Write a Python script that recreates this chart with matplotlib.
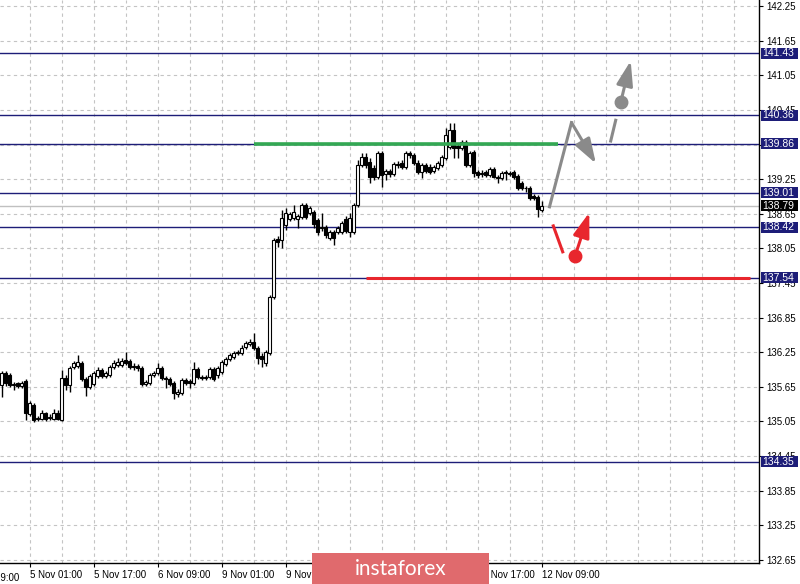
import numpy as np
import matplotlib.pyplot as plt
from matplotlib.patches import Rectangle
from matplotlib.transforms import blended_transform_factory

# H1 candles (oldest first, last one = 12 Nov 09:00)
opens = [135.68, 135.89, 135.86, 135.70, 135.72, 135.67, 135.75, 135.18, 135.34, 135.09,
         135.09, 135.20, 135.11, 135.09, 135.20, 135.08, 135.80, 135.68, 135.99, 136.01,
         136.06, 135.79, 135.65, 135.70, 135.84, 135.94, 135.84, 135.86, 135.99, 136.03,
         136.03, 136.12, 136.10, 136.01, 136.01, 135.98, 135.70, 135.72, 135.86, 135.89,
         135.98, 135.80, 135.79, 135.72, 135.53, 135.54, 135.77, 135.75, 135.72, 135.96,
         135.82, 135.80, 135.82, 135.96, 135.86, 135.91, 136.05, 136.13, 136.17, 136.24,
         136.24, 136.34, 136.39, 136.43, 136.32, 136.19, 136.06, 136.24, 137.21, 138.21,
         138.20, 138.46, 138.56, 138.58, 138.56, 138.59, 138.80, 138.66, 138.68, 138.54,
         138.40, 138.42, 138.23, 138.33, 138.33, 138.33, 138.56, 138.33, 138.33, 138.80,
         139.49, 139.63, 139.55, 139.44, 139.29, 139.70, 139.34, 139.39, 139.34, 139.51,
         139.53, 139.46, 139.70, 139.67, 139.53, 139.37, 139.49, 139.46, 139.39, 139.44,
         139.49, 139.62, 139.81, 140.10, 139.82, 139.79, 139.89, 139.49, 139.72, 139.37,
         139.36, 139.37, 139.32, 139.43, 139.29, 139.27, 139.37, 139.36, 139.37, 139.30,
         139.18, 139.10, 139.10, 138.96, 138.94, 138.71]
highs = [135.93, 135.93, 135.89, 135.73, 135.73, 135.75, 135.79, 135.41, 135.37, 135.15,
         135.25, 135.21, 135.18, 135.27, 135.25, 135.94, 135.86, 136.01, 136.10, 136.20,
         136.10, 135.82, 135.87, 135.93, 135.99, 135.98, 135.93, 136.03, 136.12, 136.15,
         136.15, 136.25, 136.13, 136.06, 136.05, 136.01, 135.77, 135.89, 135.93, 136.06,
         136.01, 135.84, 135.82, 135.75, 135.61, 135.80, 135.80, 135.79, 136.08, 135.99,
         135.86, 135.86, 135.99, 135.99, 136.01, 136.12, 136.17, 136.24, 136.27, 136.29,
         136.38, 136.45, 136.48, 136.58, 136.36, 136.24, 136.29, 137.24, 138.23, 138.26,
         138.71, 138.75, 138.68, 138.80, 138.65, 138.84, 138.84, 138.78, 138.71, 138.58,
         138.66, 138.46, 138.37, 138.37, 138.44, 138.52, 138.61, 138.66, 138.84, 139.58,
         139.70, 139.70, 139.62, 139.49, 139.74, 139.74, 139.43, 139.43, 139.55, 139.56,
         139.58, 139.74, 139.74, 139.70, 139.58, 139.53, 139.53, 139.51, 139.49, 139.56,
         139.67, 140.14, 140.22, 140.22, 139.86, 139.93, 139.93, 139.74, 139.75, 139.41,
         139.41, 139.41, 139.46, 139.46, 139.32, 139.39, 139.41, 139.39, 139.41, 139.34,
         139.22, 139.13, 139.13, 138.99, 138.97, 138.87]
lows = [135.47, 135.67, 135.65, 135.60, 135.63, 135.63, 135.08, 135.15, 135.04, 135.06,
        135.08, 135.06, 135.08, 135.08, 135.08, 135.06, 135.60, 135.56, 135.96, 135.98,
        135.75, 135.49, 135.61, 135.67, 135.80, 135.80, 135.80, 135.82, 135.96, 135.99,
        135.99, 136.03, 135.96, 135.94, 135.93, 135.67, 135.67, 135.68, 135.82, 135.86,
        135.77, 135.63, 135.67, 135.44, 135.47, 135.51, 135.68, 135.63, 135.68, 135.79,
        135.77, 135.77, 135.79, 135.75, 135.80, 135.87, 136.01, 136.10, 136.13, 136.20,
        136.20, 136.31, 136.36, 136.29, 136.05, 135.99, 136.01, 136.20, 137.17, 138.07,
        138.06, 138.37, 138.52, 138.54, 138.40, 138.56, 138.56, 138.63, 138.40, 138.28,
        138.35, 138.23, 138.20, 138.11, 138.30, 138.30, 138.32, 138.25, 138.30, 138.77,
        139.46, 139.44, 139.18, 139.23, 139.25, 139.11, 139.23, 139.29, 139.30, 139.44,
        139.43, 139.43, 139.62, 139.49, 139.34, 139.27, 139.36, 139.34, 139.36, 139.41,
        139.46, 139.58, 139.77, 139.62, 139.62, 139.75, 139.46, 139.46, 139.29, 139.27,
        139.29, 139.29, 139.29, 139.27, 139.18, 139.23, 139.23, 139.30, 139.25, 139.06,
        139.06, 139.03, 138.89, 138.89, 138.59, 138.68]
closes = [135.89, 135.72, 135.68, 135.68, 135.67, 135.72, 135.20, 135.37, 135.08, 135.11,
          135.20, 135.09, 135.13, 135.20, 135.09, 135.80, 135.68, 135.98, 136.06, 136.08,
          135.79, 135.65, 135.84, 135.89, 135.94, 135.84, 135.89, 135.99, 136.06, 136.08,
          136.10, 136.06, 135.99, 135.99, 135.98, 135.70, 135.73, 135.86, 135.89, 135.98,
          135.80, 135.79, 135.70, 135.54, 135.56, 135.77, 135.72, 135.72, 135.96, 135.82,
          135.80, 135.82, 135.96, 135.79, 135.98, 136.08, 136.13, 136.20, 136.24, 136.25,
          136.32, 136.41, 136.43, 136.32, 136.15, 136.13, 136.25, 137.21, 138.20, 138.16,
          138.58, 138.66, 138.65, 138.68, 138.61, 138.80, 138.59, 138.75, 138.47, 138.33,
          138.42, 138.28, 138.33, 138.23, 138.40, 138.49, 138.35, 138.58, 138.80, 139.49,
          139.63, 139.49, 139.29, 139.29, 139.70, 139.32, 139.39, 139.34, 139.51, 139.49,
          139.46, 139.70, 139.67, 139.53, 139.37, 139.49, 139.39, 139.37, 139.46, 139.53,
          139.63, 140.01, 140.10, 139.79, 139.79, 139.89, 139.49, 139.70, 139.36, 139.32,
          139.34, 139.32, 139.43, 139.29, 139.27, 139.36, 139.36, 139.34, 139.29, 139.10,
          139.10, 139.09, 138.92, 138.92, 138.73, 138.79]

date_ticks = [-9, 7, 23, 39, 55, 71, 87, 103, 119, 135]
date_labels = ["4 Nov 09:00", "5 Nov 01:00", "5 Nov 17:00", "6 Nov 09:00", "9 Nov 01:00",
               "9 Nov 17:00", "10 Nov 09:00", "11 Nov 01:00", "11 Nov 17:00", "12 Nov 09:00"]
# these two sit entirely under the logo in the original
hidden_dates = ["10 Nov 09:00", "11 Nov 01:00"]
price_ticks = [142.25, 141.65, 141.05, 140.45, 139.85, 139.25, 138.65, 138.05, 137.45,
               136.85, 136.25, 135.65, 135.05, 134.45, 133.85, 133.25, 132.65]

levels = [141.43, 140.36, 139.86, 139.01, 138.42, 137.54, 134.35]
bid = 138.79
resistance = 139.86   # green
support = 137.54      # red

# scenario sketches (candle index, price)
up_path_x = [137.0, 142.5, 148.6]
up_path_y = [138.77, 140.23, 139.52]
break_x = [152.3, 153.55, 154.8, 157.3]
break_y = [139.91, 140.27, 140.58, 141.30]
down_x = [137.95, 140.3, 143.4, 146.95]
down_y = [138.44, 137.99, 137.92, 138.67]

navy = "#1d1d78"
grey = "#8a8a8a"
red = "#e8262d"

plt.rcParams['font.family'] = ['Liberation Sans', 'DejaVu Sans']

fig = plt.figure(figsize=(8, 5.84), dpi=100)
ax = fig.add_axes([0, 21 / 584, 759 / 800, 563 / 584])

x = np.arange(len(closes))
o = np.array(opens); c = np.array(closes)
ax.vlines(x, lows, highs, color="black", lw=1, zorder=3)
up = c >= o
ax.bar(x[up], (c - o)[up], bottom=o[up], width=0.6, color="white",
       edgecolor="black", lw=0.8, zorder=4)
ax.bar(x[~up], (o - c)[~up], bottom=c[~up], width=0.6, color="black",
       edgecolor="black", lw=0.8, zorder=4)

ax.set_xlim(-0.375, 189.375)
ax.set_ylim(132.598, 142.354)

# grid
for gx in np.arange(-1, 190, 8):
    ax.axvline(gx, color="#c4c4c4", lw=0.8, ls=(0, (3, 3)), zorder=1)
for gy in price_ticks:
    ax.axhline(gy, color="#c4c4c4", lw=0.8, ls=(0, (3, 3)), zorder=1)

for lv in levels:
    ax.axhline(lv, color=navy, lw=1, zorder=2)
ax.axhline(bid, color="#c0c0c0", lw=1, zorder=2)

ax.plot([63, 139], [resistance, resistance], color="#33a853", lw=2.6,
        solid_capstyle="butt", zorder=5)
ax.plot([91, 187], [support, support], color=red, lw=2.2,
        solid_capstyle="butt", zorder=5)

# grey scenario
head = "-|>,head_length=1.5,head_width=0.5"
ax.plot(up_path_x[:2], up_path_y[:2], color=grey, lw=2.2, zorder=6)
ax.annotate("", xy=(up_path_x[2], up_path_y[2]), xytext=(up_path_x[1], up_path_y[1]),
            arrowprops=dict(arrowstyle=head, color=grey, lw=2.2, mutation_scale=10,
                            shrinkA=0, shrinkB=0), zorder=6)
ax.plot(break_x[:2], break_y[:2], color=grey, lw=2.2, zorder=6)
ax.plot(break_x[2], break_y[2], "o", color=grey, ms=9, zorder=6)
ax.annotate("", xy=(break_x[3], break_y[3]), xytext=(break_x[2], break_y[2]),
            arrowprops=dict(arrowstyle=head, color=grey, lw=2.2, mutation_scale=10,
                            shrinkA=0, shrinkB=0), zorder=6)
# red scenario
ax.plot(down_x[:2], down_y[:2], color=red, lw=2.2, zorder=6)
ax.plot(down_x[2], down_y[2], "o", color=red, ms=9, zorder=6)
ax.annotate("", xy=(down_x[3], down_y[3]), xytext=(down_x[2], down_y[2]),
            arrowprops=dict(arrowstyle=head, color=red, lw=2.2, mutation_scale=10,
                            shrinkA=0, shrinkB=0), zorder=6)

# axes look
for s in ["top", "left"]:
    ax.spines[s].set_visible(False)
for s in ["right", "bottom"]:
    ax.spines[s].set_color("black")
    ax.spines[s].set_linewidth(1)
ax.yaxis.tick_right()
ax.set_yticks(price_ticks)
# 139.85 sits fully under the 139.86 box in the original, so leave its label blank
ax.set_yticklabels(["" if p == 139.85 else f"{p:.2f}" for p in price_ticks])
ax.tick_params(axis="y", labelsize=7, length=3, pad=2, direction="out")
ax.set_xticks(date_ticks[1:])
ax.set_xticklabels(["" if d in hidden_dates else d for d in date_labels[1:]])
ax.tick_params(axis="x", labelsize=7, length=3, pad=2, direction="out")
for lbl in ax.get_xticklabels():
    lbl.set_ha("left")
ax.text(date_ticks[0] + 0.3, -0.018, date_labels[0],
        transform=blended_transform_factory(ax.transData, ax.transAxes),
        fontsize=7, ha="left", va="top", clip_on=False)

# price boxes on the right scale
tr = blended_transform_factory(ax.transAxes, ax.transData)
box_h = 11 / 57.71
for lv in levels + [bid]:
    fc = "black" if lv == bid else navy
    ax.add_patch(Rectangle((760.5 / 759, lv - box_h / 2), 37 / 759, box_h, transform=tr,
                           facecolor=fc, edgecolor="none", clip_on=False, zorder=8))
    ax.text(762.5 / 759, lv, f"{lv:.2f}", transform=tr, color="white", fontsize=7.5,
            ha="left", va="center", clip_on=False, zorder=9)

# logo
fig.add_artist(Rectangle((312 / 800, 0), 177 / 800, 31 / 584, transform=fig.transFigure,
                         facecolor="#e06a6d", edgecolor="none", zorder=10))
fig.text(400.5 / 800, 15 / 584, "instaforex", color="white", fontsize=15, family="Lato",
         ha="center", va="center", zorder=11)

fig.savefig("out.png", dpi=100)
